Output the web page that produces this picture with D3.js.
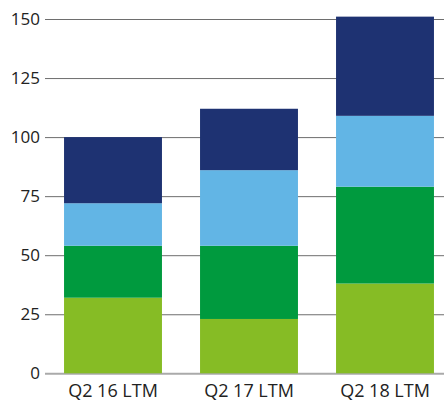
<!DOCTYPE html>
<html>
<head>
<meta charset="utf-8">
<script src="https://cdn.jsdelivr.net/npm/d3@7"></script>
<style>
  body { margin: 0; background: #fff; }
  text { font-family: "Open Sans", sans-serif; fill: #222; }
</style>
</head>
<body>
<svg id="chart" width="444" height="404"></svg>
<script>
const categories = ["Q2 16 LTM", "Q2 17 LTM", "Q2 18 LTM"];
const seriesNames = ["s1", "s2", "s3", "s4"];
const s1 = [32, 23, 38];
const s2 = [22, 31, 41];
const s3 = [18, 32, 30];
const s4 = [28, 26, 42];
const yTicks = [0, 25, 50, 75, 100, 125, 150];
const colors = ["#86bc25", "#009a3e", "#62b5e5", "#1e3272"];

const rows = categories.map((c, i) => ({
  cat: c, s1: s1[i], s2: s2[i], s3: s3[i], s4: s4[i]
}));

const svg = d3.select("#chart");
const plotLeft = 45, plotRight = 444, plotTop = 19, plotBottom = 373.3;

const y = d3.scaleLinear().domain([0, 150]).range([plotBottom, plotTop]);
const x = d3.scaleBand().domain(categories).range([plotLeft, 453])
  .paddingInner(0.28).paddingOuter(0.14);

const yAxis = svg.append("g")
  .attr("transform", "translate(" + plotLeft + ",0)")
  .call(d3.axisLeft(y).tickValues(yTicks).tickSize(-(plotRight - plotLeft)).tickPadding(5));
yAxis.select(".domain").remove();
yAxis.selectAll(".tick line")
  .attr("stroke", function(d) { return d === 0 ? "#aaa" : "#6e6e6e"; })
  .attr("stroke-width", function(d) { return d === 0 ? 2 : 1; });
yAxis.selectAll(".tick text")
  .style("font-size", "17px")
  .style("font-family", "'Open Sans', sans-serif")
  .attr("fill", "#222");

const stacked = d3.stack().keys(seriesNames)(rows);

svg.append("g").selectAll("g")
  .data(stacked)
  .join("g")
  .attr("fill", function(d, i) { return colors[i]; })
  .selectAll("rect")
  .data(function(d) { return d; })
  .join("rect")
  .attr("x", function(d) { return x(d.data.cat); })
  .attr("width", x.bandwidth())
  .attr("y", function(d) { return y(d[1]); })
  .attr("height", function(d) { return y(d[0]) - y(d[1]); });

svg.append("g").selectAll("text")
  .data(categories)
  .join("text")
  .attr("x", function(d) { return x(d) + x.bandwidth() / 2; })
  .attr("y", 397)
  .attr("text-anchor", "middle")
  .style("font-size", "18px")
  .text(function(d) { return d; });
</script>
</body>
</html>
